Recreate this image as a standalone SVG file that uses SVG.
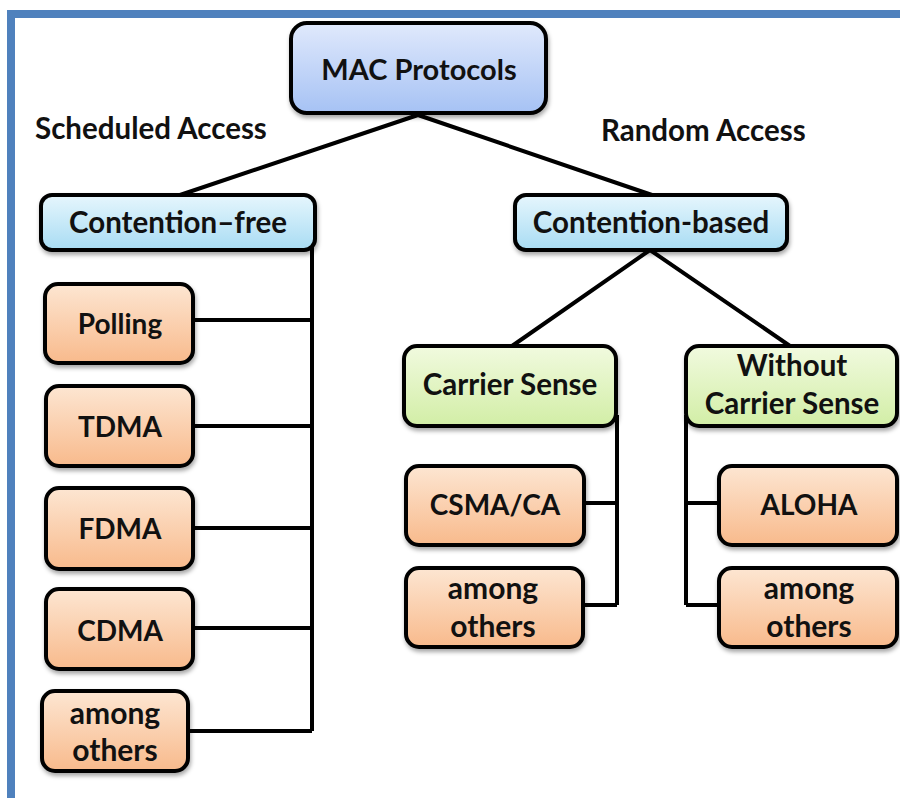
<svg xmlns="http://www.w3.org/2000/svg" width="900" height="798" viewBox="0 0 900 798">
  <defs>
    <linearGradient id="gBlue" x1="0" y1="0" x2="0" y2="1">
      <stop offset="0" stop-color="#e0e9fc"/>
      <stop offset="1" stop-color="#a6c2f4"/>
    </linearGradient>
    <linearGradient id="gCyan" x1="0" y1="0" x2="0" y2="1">
      <stop offset="0" stop-color="#e6f6fd"/>
      <stop offset="1" stop-color="#a8dcf3"/>
    </linearGradient>
    <linearGradient id="gGreen" x1="0" y1="0" x2="0" y2="1">
      <stop offset="0" stop-color="#f1fadf"/>
      <stop offset="1" stop-color="#d2eea6"/>
    </linearGradient>
    <linearGradient id="gOrange" x1="0" y1="0" x2="0" y2="1">
      <stop offset="0" stop-color="#fde6d2"/>
      <stop offset="1" stop-color="#f8ba8c"/>
    </linearGradient>
    <filter id="shadow" x="-10%" y="-10%" width="120%" height="130%">
      <feDropShadow dx="1" dy="3" stdDeviation="2" flood-color="#000" flood-opacity="0.35"/>
    </filter>
  </defs>
  <style>
    .box { stroke: #000; stroke-width: 4; filter: url(#shadow); }
    .blue { fill: url(#gBlue); }
    .cyan { fill: url(#gCyan); }
    .green { fill: url(#gGreen); }
    .orange { fill: url(#gOrange); }
    text { font-family: Lato, "Open Sans", "Liberation Sans", sans-serif; font-weight: bold; fill: #111; text-anchor: middle; }
    .lbl { font-size: 28px; }
    .wide { font-size: 29.5px; }
    .two { font-size: 30px; }
    .big { font-size: 29px; }
    .hdr { font-size: 29.5px; text-anchor: start; }
    .wire { stroke: #000; stroke-width: 4; fill: none; }
  </style>

  <rect width="900" height="798" fill="#fff"/>
  <!-- frame -->
  <rect x="7" y="10" width="893" height="8" fill="#4f81bd"/>
  <rect x="7" y="10" width="8" height="788" fill="#4f81bd"/>

  <text class="hdr" x="35" y="139">Scheduled Access</text>
  <text class="hdr" x="601" y="141">Random Access</text>

  <g id="connectors">
    <path class="wire" d="M418 115 L180 195 M418 115 L652 195"/>
    <path class="wire" d="M650 250 L512 346 M650 250 L790 346"/>
    <path class="wire" d="M312 240 V731 M193 320 H312 M193 426 H312 M193 528 H312 M193 628 H312 M188 731 H312"/>
    <path class="wire" d="M617 415 V605 M585 503 H617 M583 605 H617"/>
    <path class="wire" d="M686 415 V605 M686 503 H718 M686 605 H718"/>
  </g>

  <g id="mac">
    <rect class="box blue" x="291" y="23" width="255" height="90" rx="16"/>
    <text class="big" x="419" y="80">MAC Protocols</text>
  </g>
  <g id="contention-free">
    <rect class="box cyan" x="41" y="195" width="274" height="55" rx="11"/>
    <text class="wide" x="178" y="233">Contention–free</text>
  </g>
  <g id="contention-based">
    <rect class="box cyan" x="515" y="195" width="272" height="55" rx="11"/>
    <text class="wide" x="651" y="233">Contention-based</text>
  </g>
  <g id="polling">
    <rect class="box orange" x="45" y="284" width="148" height="79" rx="13"/>
    <text class="lbl" x="120" y="334">Polling</text>
  </g>
  <g id="tdma">
    <rect class="box orange" x="46" y="386" width="147" height="80" rx="13"/>
    <text class="lbl" x="120" y="437">TDMA</text>
  </g>
  <g id="fdma">
    <rect class="box orange" x="46" y="488" width="147" height="81" rx="13"/>
    <text class="lbl" x="120" y="539">FDMA</text>
  </g>
  <g id="cdma">
    <rect class="box orange" x="46" y="589" width="147" height="80" rx="13"/>
    <text class="lbl" x="120" y="641">CDMA</text>
  </g>
  <g id="others-scheduled">
    <rect class="box orange" x="42" y="691" width="146" height="80" rx="13"/>
    <text class="two" x="115" y="724">among</text>
    <text class="two" x="115" y="761">others</text>
  </g>
  <g id="carrier-sense">
    <rect class="box green" x="404" y="346" width="212" height="80" rx="13"/>
    <text class="wide" x="510" y="395">Carrier Sense</text>
  </g>
  <g id="without-carrier-sense">
    <rect class="box green" x="686" y="346" width="211" height="80" rx="13"/>
    <text class="wide" x="792" y="376">Without</text>
    <text class="wide" x="792" y="414">Carrier Sense</text>
  </g>
  <g id="csma-ca">
    <rect class="box orange" x="406" y="466" width="178" height="79" rx="13"/>
    <text class="lbl" x="495" y="515">CSMA/CA</text>
  </g>
  <g id="others-carrier">
    <rect class="box orange" x="406" y="568" width="177" height="79" rx="13"/>
    <text class="two" x="493" y="599">among</text>
    <text class="two" x="493" y="637">others</text>
  </g>
  <g id="aloha">
    <rect class="box orange" x="719" y="466" width="178" height="79" rx="13"/>
    <text class="lbl" x="809" y="515">ALOHA</text>
  </g>
  <g id="others-aloha">
    <rect class="box orange" x="719" y="568" width="178" height="79" rx="13"/>
    <text class="two" x="809" y="599">among</text>
    <text class="two" x="809" y="637">others</text>
  </g>
</svg>
